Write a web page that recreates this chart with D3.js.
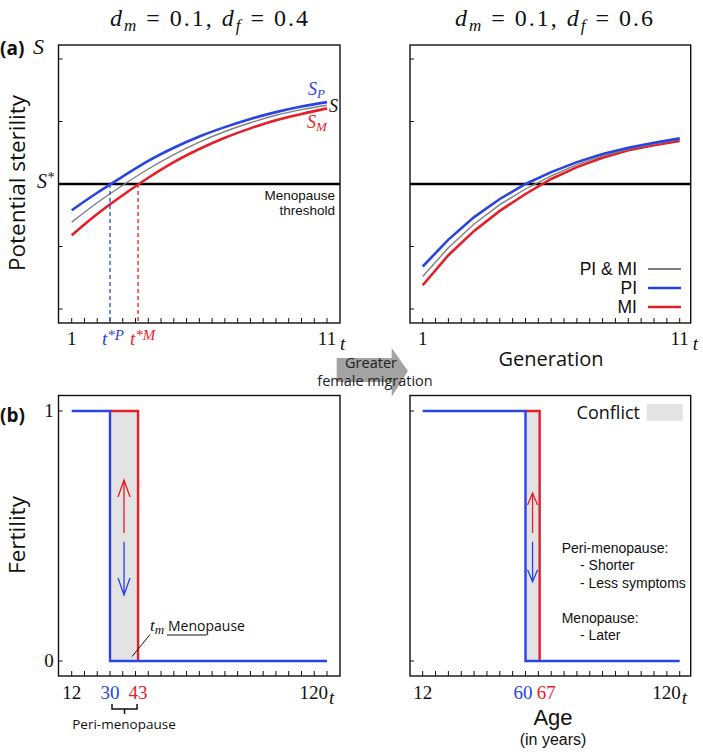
<!DOCTYPE html>
<html><head><meta charset="utf-8">
<script src="https://cdn.jsdelivr.net/npm/d3@7"></script>
<style>body{margin:0;background:#fff}svg{display:block}</style>
</head><body>
<script>
// ---------- DATA ----------
const generations = [1, 2, 3, 4, 5, 6, 7, 8, 9, 10, 11];
// panel (a) left: d_m = 0.1, d_f = 0.4  (potential sterility, axis units 0..4)
const sPI_left   = [1.58, 1.86, 2.12, 2.37, 2.58, 2.76, 2.91, 3.04, 3.15, 3.24, 3.31];
const sPIMI_left = [1.39, 1.70, 1.98, 2.24, 2.47, 2.67, 2.84, 2.98, 3.10, 3.19, 3.26];
const sMI_left   = [1.18, 1.52, 1.82, 2.10, 2.35, 2.56, 2.74, 2.89, 3.02, 3.12, 3.21];
// panel (a) right: d_m = 0.1, d_f = 0.6
const sPI_right   = [0.68, 1.11, 1.47, 1.76, 2.00, 2.19, 2.35, 2.48, 2.58, 2.66, 2.73];
const sPIMI_right = [0.52, 0.98, 1.36, 1.67, 1.92, 2.13, 2.31, 2.45, 2.56, 2.64, 2.71];
const sMI_right   = [0.38, 0.86, 1.25, 1.57, 1.84, 2.08, 2.27, 2.42, 2.54, 2.62, 2.69];
const threshold = 2;
const yTicksTop = [0, 1, 2, 3, 4];
const tStarLeft  = {P: 2.5, M: 3.6};
const tStarRight = {P: 5.0, M: 5.55};
const legendItems = ["PI & MI", "PI", "MI"];
// panel (b): fertility step functions (age in years)
const agesLeft  = [12, 30, 43, 120];
const agesRight = [12, 60, 67, 120];
const fertPI_left  = [{age: 12, f: 1}, {age: 30, f: 1}, {age: 30, f: 0}, {age: 120, f: 0}];
const fertMI_left  = [{age: 30, f: 1}, {age: 43, f: 1}, {age: 43, f: 0}];
const fertPI_right = [{age: 12, f: 1}, {age: 60, f: 1}, {age: 60, f: 0}, {age: 120, f: 0}];
const fertMI_right = [{age: 60, f: 1}, {age: 67, f: 1}, {age: 67, f: 0}];
const rightNotes = [["Peri-menopause:", 0], ["- Shorter", 1], ["- Less symptoms", 1], ["", 0], ["Menopause:", 0], ["- Later", 1]];

// ---------- STYLE ----------
const BLUE = "#2a44e2", RED = "#e31f2a", GRAY = "#7f7f7f";
const serif = "'Liberation Serif','Times New Roman',serif";
const sans = "'Open Sans','Noto Sans',sans-serif";
const tight = "'Liberation Sans',Arial,sans-serif";

const svg = d3.select("body").append("svg").attr("width", 703).attr("height", 755);

function txt(x, y, s, o = {}) {
  const t = svg.append("text").attr("x", x).attr("y", y)
    .attr("font-family", o.family || sans).attr("font-size", o.size || 14)
    .attr("fill", o.fill || "#111").attr("text-anchor", o.anchor || "start");
  if (o.italic) t.attr("font-style", "italic");
  if (o.bold) t.attr("font-weight", "bold");
  t.text(s);
  return t;
}
// multi-line text in one element
function mtxt(x, y, lines, o = {}) {
  const t = svg.append("text").attr("x", x).attr("y", y)
    .attr("font-family", o.family || sans).attr("font-size", o.size || 14)
    .attr("fill", o.fill || "#111").attr("text-anchor", o.anchor || "start");
  lines.forEach((l, i) => {
    const ts = t.append("tspan").attr("x", x + (l.dx || 0)).text(l.s);
    if (i > 0) ts.attr("dy", l.dy);
    if (l.size) ts.attr("font-size", l.size);
  });
  return t;
}

// ---------- TOP PANELS ----------
const yTop = d3.scaleLinear([0, 4], [309, 59]);
const topPanels = [
  {box: [58.5, 340], x: d3.scaleLinear([1, 11], [71.7, 327]), PI: sPI_left, PIMI: sPIMI_left, MI: sMI_left, title: "0.4", tx: 110},
  {box: [410, 690.7], x: d3.scaleLinear([1, 11], [422.7, 679.7]), PI: sPI_right, PIMI: sPIMI_right, MI: sMI_right, title: "0.6", tx: 455}
];
const topY0 = 45, topY1 = 323;

topPanels.forEach((p, i) => {
  const g = svg.append("g");
  g.append("rect").attr("x", p.box[0]).attr("y", topY0).attr("width", p.box[1] - p.box[0]).attr("height", topY1 - topY0)
    .attr("fill", "none").attr("stroke", "#111").attr("stroke-width", 1.4);
  yTicksTop.forEach(v => g.append("line").attr("x1", p.box[0]).attr("x2", p.box[0] + 4)
    .attr("y1", yTop(v)).attr("y2", yTop(v)).attr("stroke", "#111").attr("stroke-width", 1));
  d3.range(1, 11.01, 0.5).forEach(v => g.append("line").attr("x1", p.x(v)).attr("x2", p.x(v))
    .attr("y1", topY1).attr("y2", topY1 - 5).attr("stroke", "#111").attr("stroke-width", 1));
  // threshold
  g.append("line").attr("x1", p.box[0]).attr("x2", p.box[1]).attr("y1", yTop(threshold)).attr("y2", yTop(threshold))
    .attr("stroke", "#000").attr("stroke-width", 2.6);
  const line = d3.line().x((d, j) => p.x(generations[j])).y(d => yTop(d))
    .curve(i === 0 ? d3.curveMonotoneX : d3.curveLinear);
  g.append("path").attr("d", line(p.MI)).attr("fill", "none").attr("stroke", RED).attr("stroke-width", 2.6);
  g.append("path").attr("d", line(p.PIMI)).attr("fill", "none").attr("stroke", GRAY).attr("stroke-width", 1.4);
  g.append("path").attr("d", line(p.PI)).attr("fill", "none").attr("stroke", BLUE).attr("stroke-width", 2.6);
  // axis labels 1 and 11 t
  txt(p.x(1), 345, "1", {family: serif, size: 19, anchor: "middle"});
  txt(p.x(11), 345, "11", {family: serif, size: 19, anchor: "middle"});
  txt(p.x(11) + 13, 350, "t", {family: serif, size: 19, italic: true});
  // title
  const t = svg.append("text").attr("x", p.tx).attr("y", 26)
    .attr("font-family", serif).attr("font-size", 24).attr("fill", "#111").attr("xml:space", "preserve")
    .attr("textLength", 198).attr("lengthAdjust", "spacing");
  t.append("tspan").attr("font-style", "italic").text("d");
  t.append("tspan").attr("font-style", "italic").attr("font-size", 17).attr("dy", 5).text("m");
  t.append("tspan").attr("dy", -5).text(" = 0.1, ");
  t.append("tspan").attr("font-style", "italic").text("d");
  t.append("tspan").attr("font-style", "italic").attr("font-size", 17).attr("dy", 5).text("f");
  t.append("tspan").attr("dy", -5).text(" = " + p.title);
});

// left top decorations
{
  const p = topPanels[0];
  [["P", BLUE], ["M", RED]].forEach(([k, c]) => {
    svg.append("line").attr("x1", p.x(tStarLeft[k])).attr("x2", p.x(tStarLeft[k]))
      .attr("y1", yTop(threshold)).attr("y2", topY1).attr("stroke", c).attr("stroke-width", 1.3)
      .attr("stroke-dasharray", "4,3");
    const t = svg.append("text").attr("x", p.x(tStarLeft[k]) - 8).attr("y", 345)
      .attr("font-family", serif).attr("font-size", 19).attr("fill", c).attr("font-style", "italic");
    t.append("tspan").text("t");
    t.append("tspan").attr("font-size", 15).attr("dy", -5).text("*" + k);
  });
  txt(0, 55, "(a)", {size: 19, bold: true});
  txt(33, 54, "S", {family: serif, size: 22, italic: true});
  const ss = svg.append("text").attr("x", 37).attr("y", yTop(threshold) + 4).attr("font-family", serif)
    .attr("font-size", 20).attr("font-style", "italic").attr("fill", "#111");
  ss.append("tspan").text("S");
  ss.append("tspan").attr("font-size", 14).attr("dy", -6).text("*");
  mtxt(335, 200, [{s: "Menopause"}, {s: "threshold", dy: 15.2}], {size: 13.5, anchor: "end", family: tight});
  const sp = svg.append("text").attr("x", 308).attr("y", 95).attr("font-family", serif).attr("font-size", 18)
    .attr("font-style", "italic").attr("fill", BLUE);
  sp.append("tspan").text("S"); sp.append("tspan").attr("font-size", 13).attr("dy", 3).text("P");
  txt(329, 112, "S", {family: serif, size: 18, italic: true});
  const sm = svg.append("text").attr("x", 307).attr("y", 128).attr("font-family", serif).attr("font-size", 18)
    .attr("font-style", "italic").attr("fill", RED);
  sm.append("tspan").text("S"); sm.append("tspan").attr("font-size", 13).attr("dy", 3).text("M");
  txt(25, 183, "Potential sterility", {size: 22.5, anchor: "middle"})
    .attr("transform", "rotate(-90,25,183)");
}
// right top legend + Generation
{
  const colors = [GRAY, BLUE, RED];
  const ly = [269, 288, 307];
  legendItems.forEach((s, i) => {
    txt(637, ly[i] + 6, s, {size: 17.5, anchor: "end", family: tight});
    svg.append("line").attr("x1", 648).attr("x2", 681).attr("y1", ly[i]).attr("y2", ly[i])
      .attr("stroke", colors[i]).attr("stroke-width", i === 0 ? 1.8 : 2.4);
  });
  txt(551, 366, "Generation", {size: 20, anchor: "middle"});
}

// middle arrow
svg.append("path").attr("d", "M336.7,358 L391.7,358 L391.7,348 L408,371 L391.7,396.7 L391.7,382 L336.7,382 Z")
  .attr("fill", "#a3a3a3");
mtxt(373, 368, [{s: "Greater", dx: -2}, {s: "female migration", dy: 18, dx: 2}], {size: 14.5, anchor: "middle", fill: "#222"});

// ---------- BOTTOM PANELS ----------
const yBot = d3.scaleLinear([0, 1], [661, 411]);
const botY0 = 395.5, botY1 = 676;
const botPanels = [
  {box: topPanels[0].box, gx: topPanels[0].x, ages: agesLeft, tStar: tStarLeft, PI: fertPI_left, MI: fertMI_left, arrowHalf: 6, arrowLen: 17, up: [0.512, 0.724], down: [0.477, 0.264]},
  {box: topPanels[1].box, gx: topPanels[1].x, ages: agesRight, tStar: tStarRight, PI: fertPI_right, MI: fertMI_right, arrowHalf: 5, arrowLen: 12, up: [0.512, 0.672], down: [0.477, 0.317]}
];
botPanels.forEach((p, i) => {
  const x = d3.scaleLinear(p.ages, [p.gx(1), p.gx(p.tStar.P), p.gx(p.tStar.M), p.gx(11)]);
  const g = svg.append("g");
  g.append("rect").attr("x", x(p.ages[1])).attr("y", yBot(1)).attr("width", x(p.ages[2]) - x(p.ages[1]))
    .attr("height", yBot(0) - yBot(1)).attr("fill", "#e3e3e3");
  g.append("rect").attr("x", p.box[0]).attr("y", botY0).attr("width", p.box[1] - p.box[0]).attr("height", botY1 - botY0)
    .attr("fill", "none").attr("stroke", "#111").attr("stroke-width", 1.4);
  [0, 1].forEach(v => g.append("line").attr("x1", p.box[0]).attr("x2", p.box[0] + 4)
    .attr("y1", yBot(v)).attr("y2", yBot(v)).attr("stroke", "#111"));
  const pos = d3.scaleLinear([0, 20], [x(p.ages[0]), x(p.ages[3])]);
  d3.range(21).forEach(k => g.append("line").attr("x1", pos(k)).attr("x2", pos(k))
    .attr("y1", botY1).attr("y2", botY1 - 5).attr("stroke", "#111"));
  const line = d3.line().x(d => x(d.age)).y(d => yBot(d.f));
  g.append("path").attr("d", line(p.MI)).attr("fill", "none").attr("stroke", RED).attr("stroke-width", 2.4);
  g.append("path").attr("d", line(p.PI)).attr("fill", "none").attr("stroke", BLUE).attr("stroke-width", 2.4);
  // arrows
  const ax = (x(p.ages[1]) + x(p.ages[2])) / 2;
  const h = p.arrowHalf, L = p.arrowLen;
  const up0 = yBot(p.up[0]), up1 = yBot(p.up[1]);
  g.append("path").attr("d", `M${ax},${up0} L${ax},${up1} M${ax - h},${up1 + L} L${ax},${up1} L${ax + h},${up1 + L}`)
    .attr("fill", "none").attr("stroke", RED).attr("stroke-width", 1.3);
  const dn0 = yBot(p.down[0]), dn1 = yBot(p.down[1]);
  g.append("path").attr("d", `M${ax},${dn0} L${ax},${dn1} M${ax - h},${dn1 - L} L${ax},${dn1} L${ax + h},${dn1 - L}`)
    .attr("fill", "none").attr("stroke", BLUE).attr("stroke-width", 1.3);
  // tick labels
  const by = 699;
  txt(x(p.ages[0]), by, String(p.ages[0]), {family: serif, size: 19, anchor: "middle"});
  txt(x(p.ages[3]) + 1, by, String(p.ages[3]), {family: serif, size: 19, anchor: "end"});
  txt(x(p.ages[3]) + 2, by + 5, "t", {family: serif, size: 19, italic: true});
  if (i === 0) {
    txt(x(p.ages[1]), by, String(p.ages[1]), {family: serif, size: 19, anchor: "middle", fill: BLUE});
    txt(x(p.ages[2]), by, String(p.ages[2]), {family: serif, size: 19, anchor: "middle", fill: RED});
  } else {
    txt(x(p.ages[1]) + 7, by, String(p.ages[1]), {family: serif, size: 19, anchor: "end", fill: BLUE});
    txt(x(p.ages[2]) - 3, by, String(p.ages[2]), {family: serif, size: 19, anchor: "start", fill: RED});
  }
  p.x = x;
});

// bottom-left annotations
{
  const x = botPanels[0].x;
  txt(0, 422, "(b)", {size: 19, bold: true});
  txt(49, yBot(1) + 6, "1", {family: serif, size: 19, anchor: "middle"});
  txt(49, yBot(0) + 6, "0", {family: serif, size: 19, anchor: "middle"});
  txt(25, 535, "Fertility", {size: 22.5, anchor: "middle"}).attr("transform", "rotate(-90,25,535)");
  svg.append("path").attr("d", `M${x(43) - 6},656.5 L150,634.5 M167,635 L206.7,635`)
    .attr("fill", "none").attr("stroke", "#111").attr("stroke-width", 1);
  const tm = svg.append("text").attr("x", 150).attr("y", 631).attr("font-family", serif)
    .attr("font-size", 17).attr("font-style", "italic").attr("fill", "#111");
  tm.append("tspan").text("t"); tm.append("tspan").attr("font-size", 13).attr("dy", 3).text("m");
  txt(168, 631, "Menopause", {size: 14});
  // bracket
  const b0 = x(30) + 2, b1 = x(43) - 1, bc = (b0 + b1) / 2;
  svg.append("path").attr("d", `M${b0},704 L${b0},709 L${b1},709 L${b1},704 M${bc},709 L${bc},714`)
    .attr("fill", "none").attr("stroke", "#111").attr("stroke-width", 1.5);
  txt(124, 729, "Peri-menopause", {size: 13.5, anchor: "middle"});
}
// bottom-right annotations
{
  txt(640, 419, "Conflict", {size: 18, anchor: "end"});
  svg.append("rect").attr("x", 646.7).attr("y", 404).attr("width", 36).attr("height", 16.7).attr("fill", "#e3e3e3");
  const lines = [];
  let prev = 0;
  const ly = [553, 570, 588, 606, 623, 640];
  rightNotes.forEach(([s, ind], i) => {
    if (!s) return;
    lines.push({s, dx: ind ? 18.3 : 0, dy: ly[i] - prev});
    prev = ly[i];
  });
  mtxt(561.7, ly[0], lines, {size: 14, family: tight});
  mtxt(553, 725, [{s: "Age"}, {s: "(in years)", dy: 19.5, size: 16}], {size: 22, anchor: "middle", family: tight});
}
</script>
</body></html>
